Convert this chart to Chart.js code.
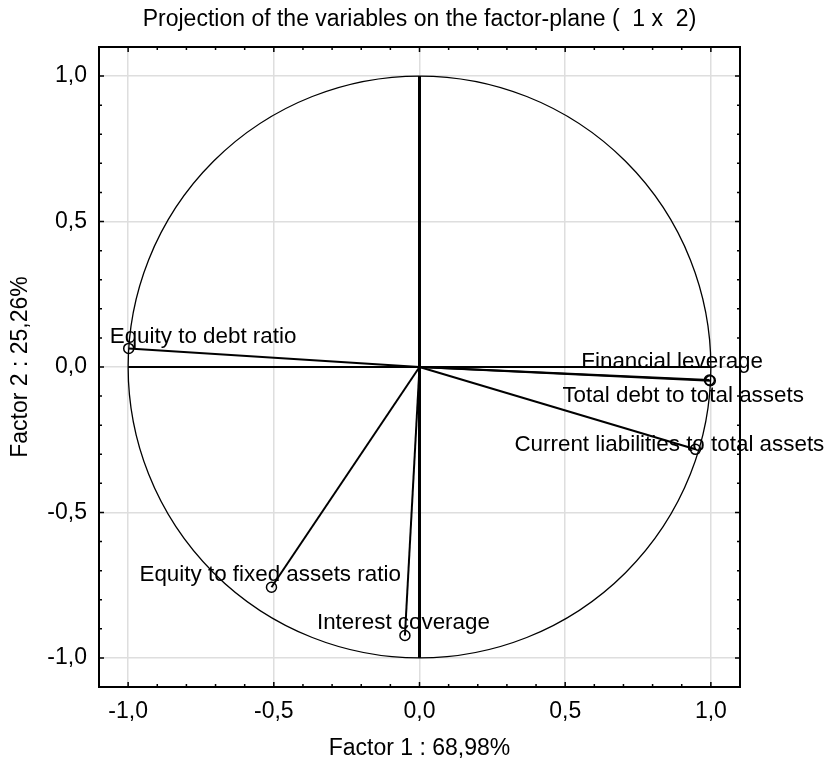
<!DOCTYPE html>
<html>
<head>
<meta charset="utf-8">
<script src="https://cdn.jsdelivr.net/npm/chart.js@4.4.1/dist/chart.umd.min.js"></script>
<style>
  html, body { margin: 0; padding: 0; background: #fff; }
  #wrap { width: 830px; height: 759px; }
</style>
</head>
<body>
<div id="wrap"><canvas id="plane" width="830" height="759"></canvas></div>
<script>
// Variables and their loadings on factor 1 / factor 2
const variables = [
  "Equity to debt ratio",
  "Financial leverage",
  "Total debt to total assets",
  "Current liabilities to total assets",
  "Equity to fixed assets ratio",
  "Interest coverage"
];
const factor1 = [-0.998, 0.998, 0.995, 0.947, -0.508, -0.050];
const factor2 = [0.064, -0.047, -0.045, -0.283, -0.757, -0.923];

// Tick values (both axes)
const majorTicks = [-1.0, -0.5, 0.0, 0.5, 1.0];
const minorTicks = [-0.9, -0.8, -0.7, -0.6, -0.4, -0.3, -0.2, -0.1,
                    0.1, 0.2, 0.3, 0.4, 0.6, 0.7, 0.8, 0.9];

// Label offsets from the marker (px): left edge, vertical centre
const labelDx = [-19, -129, -147, -181, -132, -88];
const labelDy = [-12, -19, 16, -4, -12, -13];

const FONT = "'Liberation Sans', Arial, sans-serif";
const FS = 23;
const fmt = v => v.toFixed(1).replace(".", ",");

const datasets = [];
// zero axes through the origin
datasets.push({ data: [{ x: 0, y: -1 }, { x: 0, y: 1 }], borderColor: "#000", borderWidth: 3, pointRadius: 0, showLine: true });
datasets.push({ data: [{ x: -1, y: 0 }, { x: 1, y: 0 }], borderColor: "#000", borderWidth: 2, pointRadius: 0, showLine: true });
// vectors
variables.forEach((name, i) => {
  datasets.push({
    label: name,
    data: [{ x: 0, y: 0 }, { x: factor1[i], y: factor2[i] }],
    showLine: true,
    borderColor: "#000",
    borderWidth: 2,
    pointRadius: [0, 5],
    pointBorderWidth: 1.5,
    pointBorderColor: "#000",
    pointBackgroundColor: "rgba(0,0,0,0)"
  });
});

// frame, inward ticks, unit circle, title and variable labels
const decor = {
  id: "decor",
  beforeDatasetsDraw(chart) {
    const { ctx, scales: { x, y } } = chart;
    ctx.save();
    ctx.strokeStyle = "#000";
    ctx.lineWidth = 1.3;
    ctx.beginPath();
    ctx.ellipse(x.getPixelForValue(0), y.getPixelForValue(0),
      x.getPixelForValue(1) - x.getPixelForValue(0),
      y.getPixelForValue(0) - y.getPixelForValue(1), 0, 0, Math.PI * 2);
    ctx.stroke();
    ctx.restore();
  },
  afterDraw(chart) {
    const { ctx, chartArea: a, scales: { x, y } } = chart;
    ctx.save();
    ctx.strokeStyle = "#000";
    ctx.lineWidth = 1.5;
    const tick = (vals, len) => {
      vals.forEach(v => {
        const px = x.getPixelForValue(v), py = y.getPixelForValue(v);
        ctx.beginPath();
        ctx.moveTo(px, a.bottom); ctx.lineTo(px, a.bottom - len);
        ctx.moveTo(px, a.top); ctx.lineTo(px, a.top + len);
        ctx.moveTo(a.left, py); ctx.lineTo(a.left + len, py);
        ctx.moveTo(a.right, py); ctx.lineTo(a.right - len, py);
        ctx.stroke();
      });
    };
    tick(majorTicks, 5);
    tick(minorTicks, 3);
    ctx.lineWidth = 2;
    ctx.strokeRect(a.left, a.top, a.right - a.left, a.bottom - a.top);

    ctx.fillStyle = "#000";
    ctx.font = FS + "px " + FONT;
    ctx.textBaseline = "middle";
    ctx.textAlign = "center";
    ctx.fillText("Projection of the variables on the factor-plane (  1 x  2)", (a.left + a.right) / 2, 20);

    ctx.font = "22.4px " + FONT;
    ctx.textAlign = "left";
    variables.forEach((name, i) => {
      const px = x.getPixelForValue(factor1[i]);
      const py = y.getPixelForValue(factor2[i]);
      ctx.fillText(name, px + labelDx[i], py + labelDy[i]);
    });
    ctx.restore();
  }
};

const axisBase = {
  type: "linear",
  min: -1.1,
  max: 1.1,
  afterBuildTicks: s => { s.ticks = majorTicks.map(v => ({ value: v })); },
  grid: { color: "#dedede", lineWidth: 1.5, drawTicks: false },
  border: { display: false }
};

new Chart(document.getElementById("plane"), {
  type: "scatter",
  data: { datasets },
  options: {
    responsive: false,
    animation: false,
    events: [],
    layout: { padding: { top: 47, right: 90, left: 0, bottom: 0 } },
    plugins: { legend: { display: false }, tooltip: { enabled: false } },
    scales: {
      x: {
        ...axisBase,
        afterFit: s => { s.height = 72; },
        ticks: { color: "#000", padding: 11, font: { family: FONT, size: FS }, callback: v => fmt(v) },
        title: { display: true, text: "Factor 1 : 68,98%", color: "#000", padding: { top: 0, bottom: 0 }, font: { family: FONT, size: FS, lineHeight: 0.9 } }
      },
      y: {
        ...axisBase,
        afterFit: s => { s.width = 99; },
        ticks: { color: "#000", padding: 12, font: { family: FONT, size: FS }, callback: v => fmt(v) },
        title: { display: true, text: "Factor 2 : 25,26%", color: "#000", padding: { top: 7, bottom: 0 }, font: { family: FONT, size: FS } }
      }
    }
  },
  plugins: [decor]
});
</script>
</body>
</html>
